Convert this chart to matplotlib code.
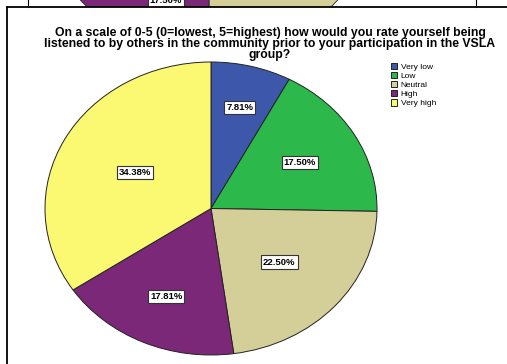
import matplotlib
matplotlib.use('Agg')
import matplotlib.pyplot as plt
import numpy as np
from matplotlib.lines import Line2D

plt.rcParams['font.family'] = ['Liberation Sans', 'DejaVu Sans']

# data
categories = ['Very low', 'Low', 'Neutral', 'High', 'Very high']
percents = [7.81, 17.50, 22.50, 17.81, 34.38]
colors = ['#3d58ab', '#2db84b', '#d4cf98', '#7b2878', '#fbf872']
title = ('On a scale of 0-5 (0=lowest, 5=highest) how would you rate yourself being\n'
         'listened to by others in the community prior to your participation in the VSLA\n'
         'group?')

# the previous chart peeking in at the top of the page
prev_percents = [10.00, 17.50, 22.50, 17.50, 32.50]

# how far out each label box sits (fraction of radius)
label_r = [0.71, 0.62, 0.55, 0.66, 0.52]

W, H = 507, 364
fig = plt.figure(figsize=(W / 100, H / 100), dpi=100)


def px_axes(x0, y0, x1, y1):
    # axes from pixel box (top-left origin)
    return fig.add_axes([x0 / W, 1 - y1 / H, (x1 - x0) / W, (y1 - y0) / H])


def boxed(texts):
    for t in texts:
        t.set_fontsize(6.8)
        t.set_fontweight('bold')
        t.set_bbox(dict(boxstyle='square,pad=0.22', fc='white', ec='#333333', lw=0.8))


# fragment of previous chart
ax0 = px_axes(43, -239, 375, 54)
w0, t0, a0 = ax0.pie(prev_percents, colors=colors, startangle=90, counterclock=False,
                     autopct='%.2f%%', pctdistance=0.72,
                     wedgeprops=dict(edgecolor='#222222', linewidth=0.6))
boxed(a0)
for i, t in enumerate(a0):
    if i != 3:
        t.set_visible(False)
a0[3].set_position((-0.26, -0.635))
ax0.set_aspect('auto')
ax0.set_xlim(-1, 1)
ax0.set_ylim(-1, 1)
ax0.set_zorder(-2)

# main pie
ax = px_axes(45, 62, 377, 355)
wedges, texts, autotexts = ax.pie(percents, colors=colors, startangle=90, counterclock=False,
                                  autopct='%.2f%%', pctdistance=0.6,
                                  wedgeprops=dict(edgecolor='#222222', linewidth=0.7))
boxed(autotexts)
for w, t, r in zip(wedges, autotexts, label_r):
    mid = np.deg2rad((w.theta1 + w.theta2) / 2)
    t.set_position((r * np.cos(mid), r * np.sin(mid)))
ax.set_aspect('auto')
ax.set_xlim(-1, 1)
ax.set_ylim(-1, 1)

# white page area of the main chart, with its frame
fig.add_artist(plt.Rectangle((7 / W, 0), 1, 1 - 6.5 / H, transform=fig.transFigure,
                             fc='white', ec='none', zorder=-1))
fig.add_artist(Line2D([7 / W, 7 / W], [0, 1 - 6.5 / H], color='black', lw=1.3))
fig.add_artist(Line2D([7 / W, 1], [1 - 6.5 / H, 1 - 6.5 / H], color='black', lw=1.3))
fig.add_artist(Line2D([27.5 / W, 27.5 / W], [1 - 6.5 / H, 1], color='black', lw=0.8))
fig.add_artist(Line2D([475.5 / W, 475.5 / W], [1 - 6.5 / H, 1], color='black', lw=0.8))

fig.text(270 / W, 1 - 27 / H, title, ha='center', va='top', fontsize=8.8,
         fontweight='bold', linespacing=0.88)

fig.legend(wedges, categories, loc='upper left', bbox_to_anchor=(391 / W, 1 - 63 / H),
           fontsize=6, frameon=False, handlelength=0.75, handleheight=0.75,
           handletextpad=0.4, labelspacing=0.14, borderaxespad=0, borderpad=0)

fig.savefig('out.png', dpi=100, facecolor='white')
